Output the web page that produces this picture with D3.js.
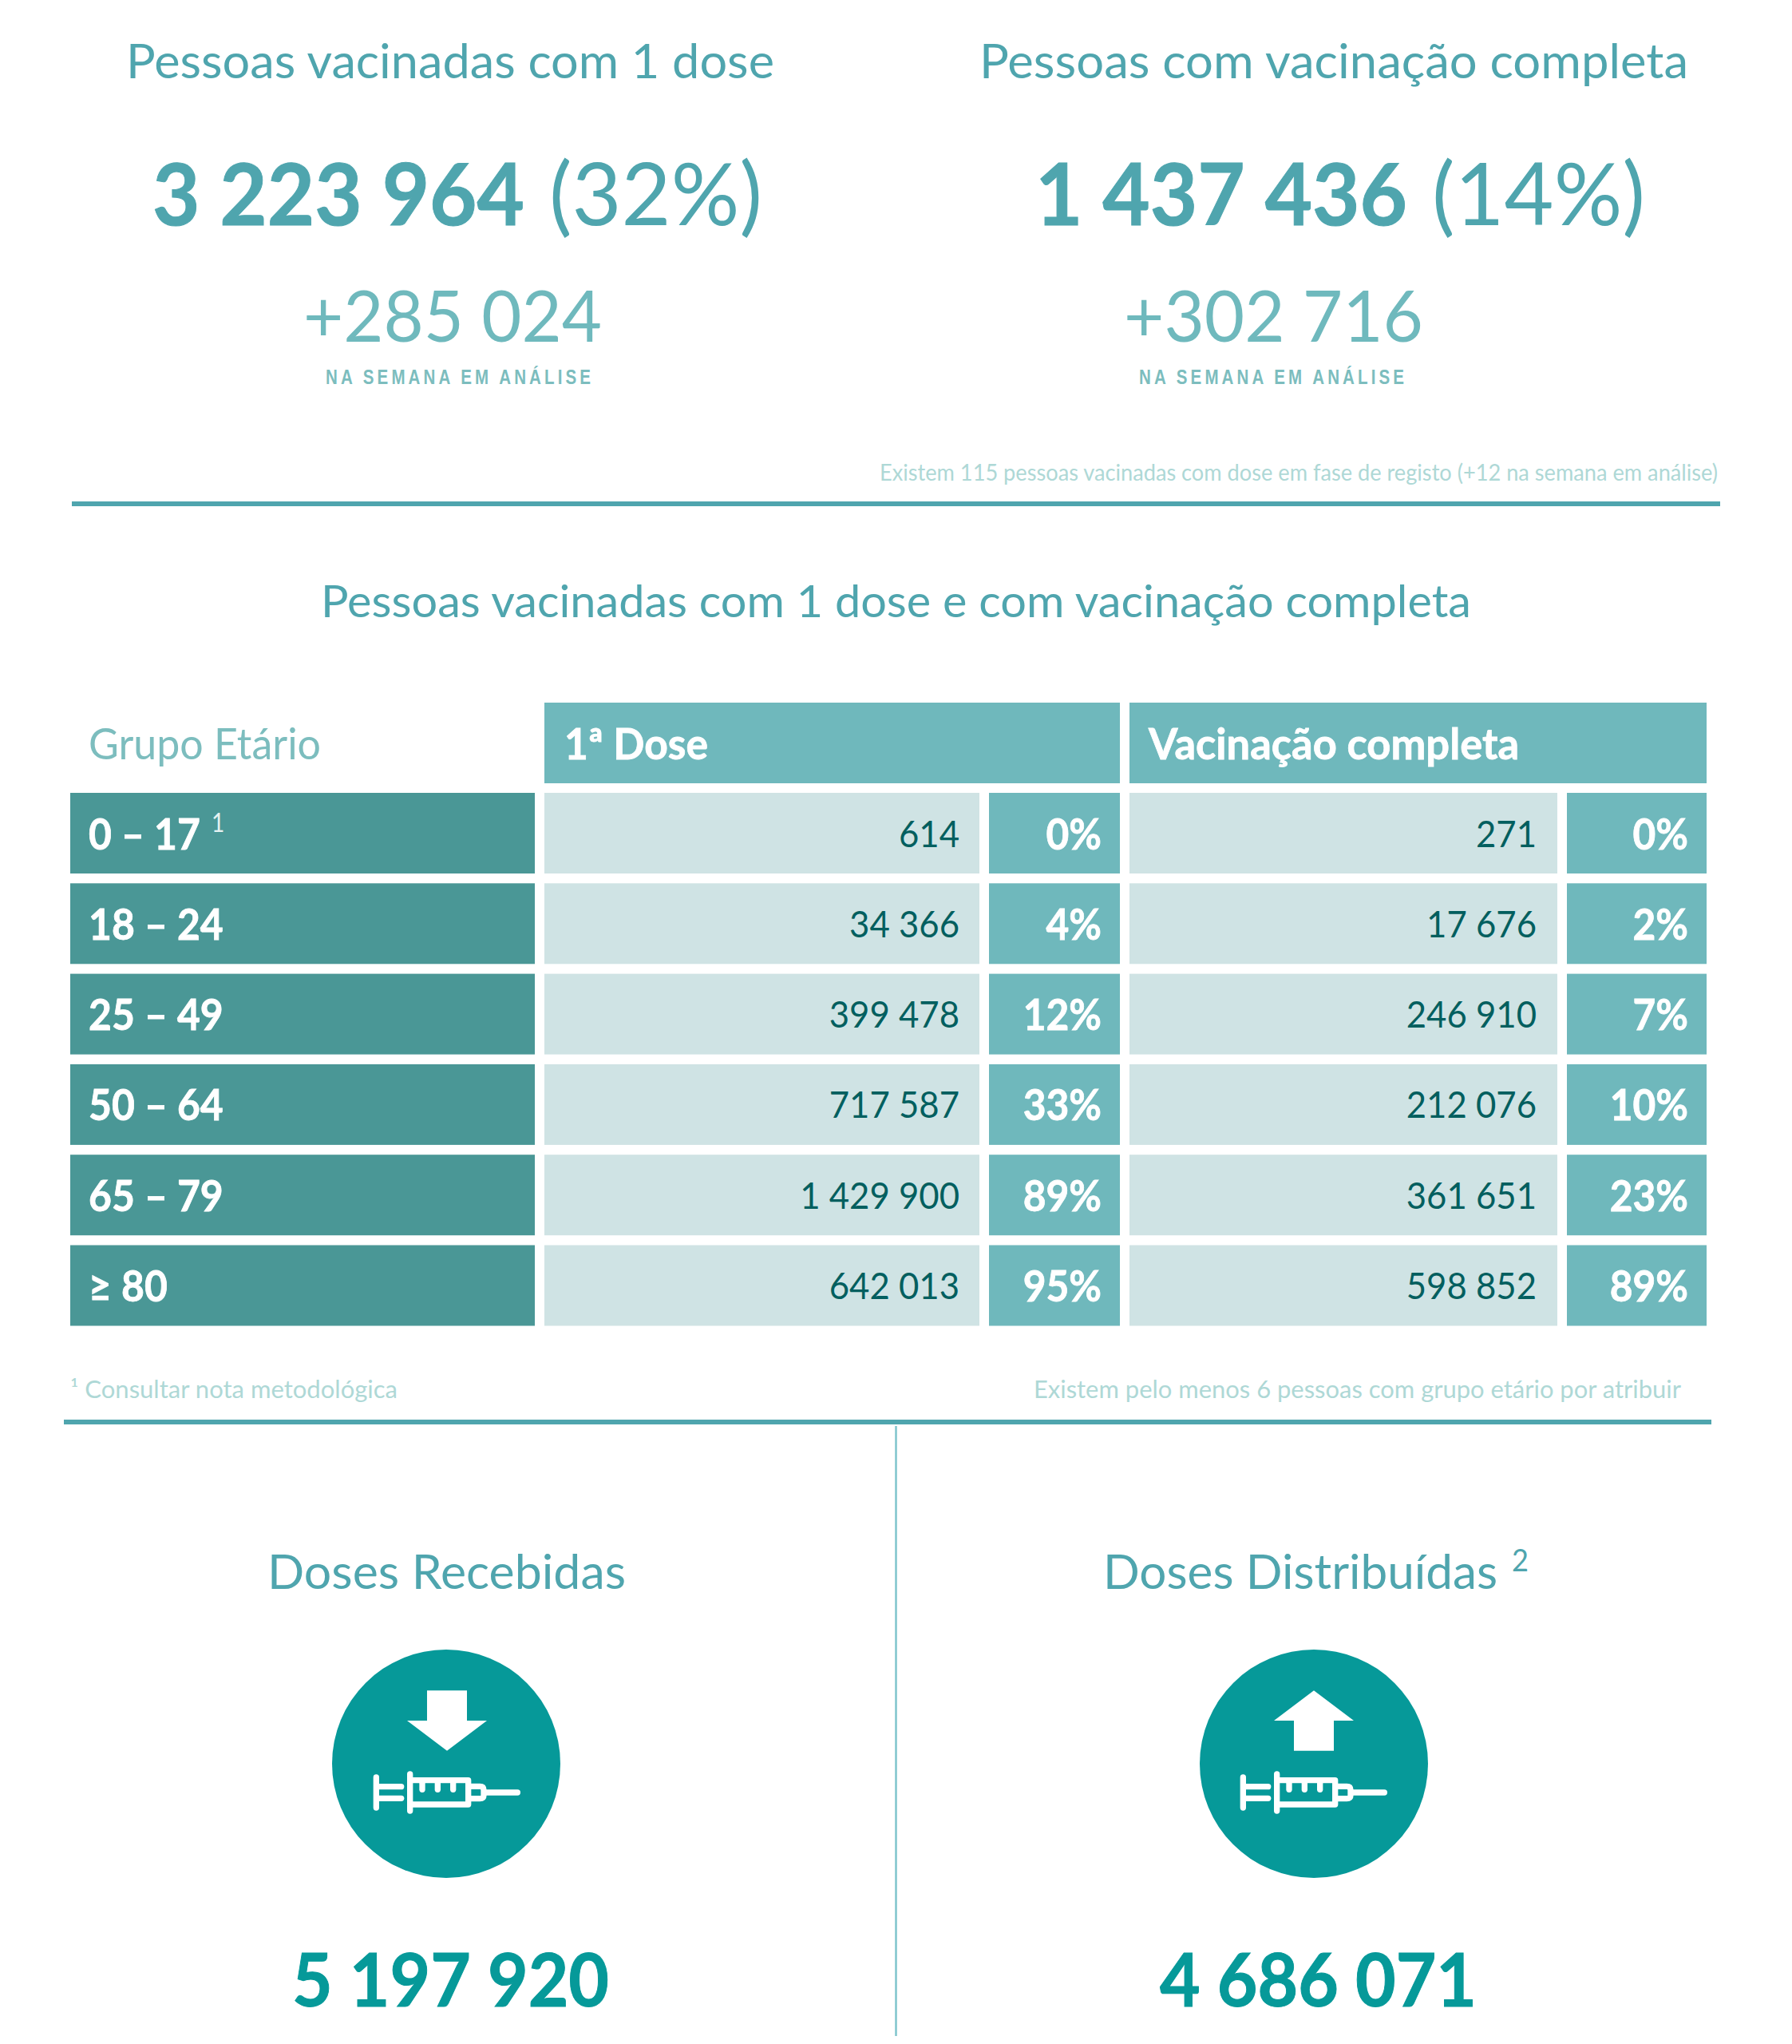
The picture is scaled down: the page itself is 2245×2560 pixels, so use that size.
<!DOCTYPE html>
<html><head><meta charset="utf-8">
<script src="https://cdn.jsdelivr.net/npm/d3@7"></script>
<style>html,body{margin:0;padding:0;background:#fff}svg{display:block}</style>
</head><body><div id="chart"></div>
<script>
const ageGroups = ["0 – 17","18 – 24","25 – 49","50 – 64","65 – 79","≥ 80"];
const firstDose = [614,34366,399478,717587,1429900,642013];
const firstDosePct = [0,4,12,33,89,95];
const fullDose = [271,17676,246910,212076,361651,598852];
const fullDosePct = [0,2,7,10,23,89];
const summaryTotals = [3223964,1437436];
const summaryPct = [32,14];
const summaryWeek = [285024,302716];
const dosesTotals = [5197920,4686071];

const W=2245,H=2560;
const FONT="Lato, Carlito, 'Open Sans', sans-serif";
const C={title:"#4fa5ae",plus:"#6fb9bd",soft:"#7cbdbe",faint:"#aed8d6",head:"#6fb8bc",row:"#4a9796",cell:"#cfe3e4",num:"#035f5f",dose:"#069999",rule:"#4fa5ae",vline:"#7fc4cc"};
const fmt=d3.formatLocale({decimal:",",thousands:" ",grouping:[3],currency:["","€"]}).format(",d");
const svg=d3.select("#chart").append("svg").attr("width",W).attr("height",H).attr("viewBox",`0 0 ${W} ${H}`);
svg.append("rect").attr("width",W).attr("height",H).attr("fill","#fff");

function txt(s,o){
  const e=(o.parent||svg).append("text").text(s).attr("x",o.x).attr("y",o.y)
    .attr("font-family",o.family||FONT).attr("font-size",o.size).attr("font-weight",o.weight||400)
    .attr("fill",o.fill).attr("text-anchor",o.anchor||"start");
  if(o.ls)e.attr("letter-spacing",o.ls);
  if(o.stroke)e.attr("stroke",o.fill).attr("stroke-width",o.stroke);
  const n=e.node();
  const w=o.w||(o.sx?n.getComputedTextLength()*o.sx:null);
  if(w)e.attr("textLength",w).attr("lengthAdjust","spacingAndGlyphs");
  return e;
}

// summary block
const sumTitles=["Pessoas vacinadas com 1 dose","Pessoas com vacinação completa"];
const titleX=[[158,812],[1227,888]];
const boldX=[[191,466],[1297,466]];
const parX=[[688,267],[1794,267]];
const plusX=[[380,374],[1408,375]];
const naX=[[408,336],[1427,336]];
sumTitles.forEach((t,i)=>{
  txt(t,{x:titleX[i][0],y:98,size:60,fill:C.title,w:titleX[i][1]});
  txt(fmt(summaryTotals[i]),{x:boldX[i][0],y:282,size:108,weight:700,fill:C.title,stroke:1,w:boldX[i][1]});
  txt(`(${summaryPct[i]}%)`,{x:parX[i][0],y:282,size:108,fill:C.title,w:parX[i][1]});
  txt("+"+fmt(summaryWeek[i]),{x:plusX[i][0],y:428,size:89,fill:C.plus,w:plusX[i][1]});
  txt("NA SEMANA EM ANÁLISE",{x:naX[i][0],y:481,size:25,weight:700,ls:5,family:"'Liberation Sans',Arial,sans-serif",fill:C.soft,w:naX[i][1]});
});
txt("Existem 115 pessoas vacinadas com dose em fase de registo (+12 na semana em análise)",{x:1102,y:602,size:29,fill:C.faint,w:1050});
svg.append("rect").attr("x",90).attr("y",628).attr("width",2065).attr("height",6).attr("fill",C.rule);
txt("Pessoas vacinadas com 1 dose e com vacinação completa",{x:402,y:773,size:56,fill:C.title,w:1441});

// table
const y=d3.scaleBand().domain(ageGroups).range([993,993+6*113.3-12.3]).paddingInner(12.3/113.3);
const cols=[
 {x0:682,x1:1227,fill:C.cell,textX:1202,vals:firstDose,f:fmt,color:C.num},
 {x0:1239,x1:1403,fill:C.head,textX:1380,vals:firstDosePct,f:d=>d+"%",color:"#fff",bold:true},
 {x0:1415,x1:1951,fill:C.cell,textX:1925,vals:fullDose,f:fmt,color:C.num},
 {x0:1963,x1:2138,fill:C.head,textX:2115,vals:fullDosePct,f:d=>d+"%",color:"#fff",bold:true}
];
txt("Grupo Etário",{x:111,y:951,size:54,fill:C.soft,w:291});
[[682,1403,"1ª Dose",707,180],[1415,2138,"Vacinação completa",1439,464]].forEach(h=>{
  svg.append("rect").attr("x",h[0]).attr("y",880).attr("width",h[1]-h[0]).attr("height",101).attr("fill",C.head);
  txt(h[2],{x:h[3],y:951,size:54,weight:700,fill:"#fff",stroke:0.8,w:h[4]});
});
ageGroups.forEach((g,i)=>{
  const top=y(g),bh=y.bandwidth(),base=top+bh/2+20;
  svg.append("rect").attr("x",88).attr("y",top).attr("width",582).attr("height",bh).attr("fill",C.row);
  txt(g,{x:111,y:base,size:53,weight:700,fill:"#fff",stroke:0.8,sx:0.94});
  if(i===0)txt("1",{x:265,y:base-22,size:33,fill:"#e6f2f2",sx:0.85});
  cols.forEach(c=>{
    svg.append("rect").attr("x",c.x0).attr("y",top).attr("width",c.x1-c.x0).attr("height",bh).attr("fill",c.fill);
    txt(c.f(c.vals[i]),{x:c.textX,y:base-(c.bold?0:3),size:c.bold?54:47,weight:c.bold?700:400,fill:c.color,stroke:c.bold?0.8:0,anchor:"end",sx:c.bold?0.92:0.93});
  });
});
txt("¹ Consultar nota metodológica",{x:88,y:1751,size:31,fill:C.faint,w:410});
txt("Existem pelo menos 6 pessoas com grupo etário por atribuir",{x:1295,y:1751,size:31,fill:C.faint,w:811});
svg.append("rect").attr("x",80).attr("y",1778).attr("width",2064).attr("height",6).attr("fill",C.rule);
svg.append("line").attr("x1",1122.5).attr("x2",1122.5).attr("y1",1786).attr("y2",2550).attr("stroke",C.vline).attr("stroke-width",2.5);

// doses block
const doseTitles=["Doses Recebidas","Doses Distribuídas"];
const doseTitleX=[[335,449],[1382,494]];
const doseNumX=[[366,397],[1453,397]];
const iconX=[380,1466];
const circleX=[559,1646];
doseTitles.forEach((t,i)=>{
  txt(t,{x:doseTitleX[i][0],y:1990,size:60,fill:C.title,w:doseTitleX[i][1]});
  txt(fmt(dosesTotals[i]),{x:doseNumX[i][0],y:2513,size:92,weight:700,fill:C.dose,stroke:1,w:doseNumX[i][1]});
  svg.append("circle").attr("cx",circleX[i]).attr("cy",2209).attr("r",143).attr("fill",C.dose);
  const g=svg.append("g").attr("transform",`translate(${iconX[i]},2040) scale(${1/3})`);
  const arrow=i===0?"M465,232H615V345H690L540,458L390,345H465Z":"M465,458H615V345H690L540,232L390,345H465Z";
  g.append("path").attr("d",arrow).attr("fill","#fff");
  const s=g.append("g").attr("fill","none").attr("stroke","#fff").attr("stroke-width",22).attr("stroke-linecap","round").attr("stroke-linejoin","round");
  [[274,558,274,672],[285,593,368,593],[285,637,368,637],[401,546,401,684],[447,580,447,604],[505,580,505,604],[563,580,563,604],[685,615,805,615]]
    .forEach(l=>s.append("line").attr("x1",l[0]).attr("y1",l[1]).attr("x2",l[2]).attr("y2",l[3]));
  s.append("path").attr("d","M401,569H620V660H401");
  s.append("path").attr("d","M620,592H664Q678,592 678,606V625Q678,638 664,638H620");
});
txt("2",{x:1894,y:1968,size:39,fill:C.title,w:21});
</script></body></html>
